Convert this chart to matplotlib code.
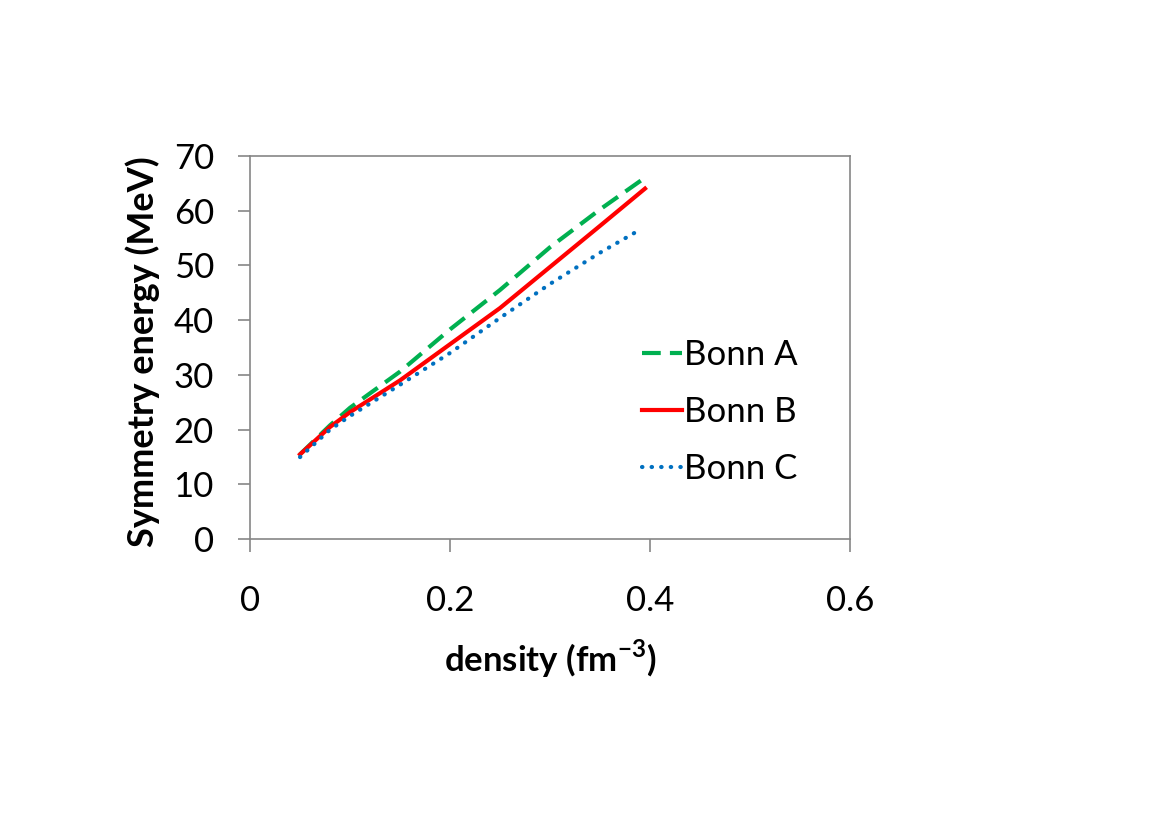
import numpy as np
import matplotlib.pyplot as plt

plt.rcParams['font.family'] = ['Lato', 'DejaVu Sans']
plt.rcParams['mathtext.fontset'] = 'custom'
plt.rcParams['mathtext.rm'] = 'Lato'
plt.rcParams['mathtext.bf'] = 'Lato:bold'

# density (fm^-3) and symmetry energy (MeV)
dens_a = [0.05, 0.08, 0.10, 0.15, 0.20, 0.25, 0.30, 0.35, 0.395]
bonn_a = [15.5, 20.8, 24.0, 30.6, 38.3, 45.5, 53.3, 60.2, 66.0]
dens_b = [0.05, 0.08, 0.10, 0.15, 0.20, 0.25, 0.30, 0.35, 0.395]
bonn_b = [15.5, 20.5, 23.2, 29.0, 35.6, 42.2, 49.7, 57.2, 64.0]
dens_c = [0.05, 0.08, 0.10, 0.15, 0.20, 0.25, 0.30, 0.35, 0.39]
bonn_c = [15.0, 20.0, 22.5, 28.2, 34.0, 40.4, 46.6, 52.3, 56.5]

xticks = [0, 0.2, 0.4, 0.6]
xtick_labels = ['0', '0.2', '0.4', '0.6']
yticks = np.arange(0, 80, 10)

fig = plt.figure(figsize=(11.7, 8.27), dpi=100)
ax = fig.add_axes([0.2137, 0.3479, 0.5128, 0.4638])

ax.plot(dens_a, bonn_a, color='#00B050', lw=3, ls=(0, (4.5, 2.2)), label='Bonn A')
ax.plot(dens_b, bonn_b, color='#FF0000', lw=3, label='Bonn B')
ax.plot(dens_c, bonn_c, color='#0070C0', lw=3, ls=(0, (0.1, 2.2)),
        dash_capstyle='round', label='Bonn C')

ax.set_xlim(0, 0.6)
ax.set_ylim(0, 70)
ax.set_xticks(xticks)
ax.set_xticklabels(xtick_labels)
ax.set_yticks(yticks)

for s in ax.spines.values():
    s.set_color('#868686')
    s.set_linewidth(1.2)
ax.tick_params(axis='both', which='major', direction='out', length=9,
               width=1.2, color='#868686', labelsize=25)
ax.tick_params(axis='x', pad=24)
ax.tick_params(axis='y', pad=17)

ax.set_xlabel('density (fm$^{\\mathbf{-3}}$)', fontsize=25, fontweight='bold')
ax.set_ylabel('Symmetry energy (MeV)', fontsize=26, fontweight='bold')
ax.xaxis.set_label_coords(0.5, -0.255)
ax.yaxis.set_label_coords(-0.15, 0.49)

ax.legend(loc='center left', bbox_to_anchor=(0.63, 0.332), frameon=False,
          fontsize=25, handlelength=1.15, handletextpad=0.06, labelspacing=0.72,
          borderaxespad=0)

fig.savefig('out.png', dpi=100)
